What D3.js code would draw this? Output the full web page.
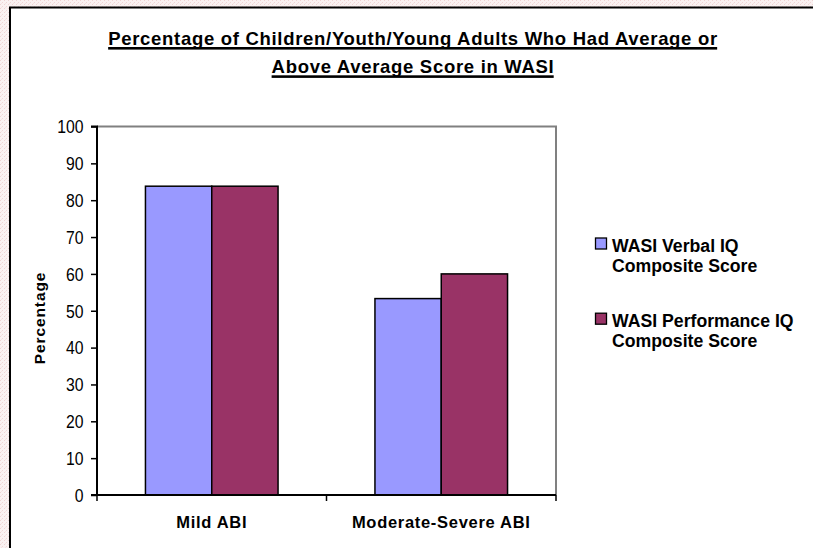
<!DOCTYPE html>
<html>
<head>
<meta charset="utf-8">
<script src="https://cdn.jsdelivr.net/npm/d3@7"></script>
<style>
  html, body { margin: 0; padding: 0; background: #fff; }
  svg { display: block; }
  text { font-family: "Liberation Sans", Arial, sans-serif; fill: #000; }
</style>
</head>
<body>
<svg id="chart" width="813" height="548"></svg>
<script>
// Data
const categories = ["Mild ABI", "Moderate-Severe ABI"];
const seriesNames = ["WASI Verbal IQ Composite Score", "WASI Performance IQ Composite Score"];
const legendLines = [["WASI Verbal IQ", "Composite Score"], ["WASI Performance IQ", "Composite Score"]];
const verbalValues = [83.8, 53.3];
const performanceValues = [83.8, 60];
const yTicks = [0, 10, 20, 30, 40, 50, 60, 70, 80, 90, 100];
const titleLines = ["Percentage of Children/Youth/Young Adults Who Had Average or", "Above Average Score in WASI"];
const yAxisTitle = "Percentage";
const colors = ["#9999FF", "#993366"];

const svg = d3.select("#chart");
const W = 813, H = 548;

// Textured page background
const defs = svg.append("defs");
const pat = defs.append("pattern").attr("id", "bgtex")
  .attr("width", 4).attr("height", 4).attr("patternUnits", "userSpaceOnUse");
pat.append("rect").attr("width", 4).attr("height", 4).attr("fill", "#faf1f1");
pat.append("rect").attr("x", 0).attr("y", 0).attr("width", 1).attr("height", 1).attr("fill", "#eed3d3");
pat.append("rect").attr("x", 2).attr("y", 2).attr("width", 1).attr("height", 1).attr("fill", "#efd6d6");
pat.append("rect").attr("x", 1).attr("y", 3).attr("width", 1).attr("height", 1).attr("fill", "#f4e2e2");
svg.append("rect").attr("width", W).attr("height", H).attr("fill", "url(#bgtex)");

// Chart area
svg.append("rect").attr("x", 10).attr("y", 7.5).attr("width", W).attr("height", H)
  .attr("fill", "#fff").attr("stroke", "#000").attr("stroke-width", 2);

// Plot area
const plot = { left: 97, right: 556, top: 126.5, bottom: 495 };
const x0 = d3.scaleBand().domain(categories).range([plot.left, plot.right]).paddingInner(0).paddingOuter(0);
const barW = 66.3;
const y = d3.scaleLinear().domain([0, 100]).range([plot.bottom, plot.top]);

// Plot area border (top and right)
svg.append("path")
  .attr("d", `M${plot.left},${plot.top}H${plot.right}V${plot.bottom}`)
  .attr("fill", "none").attr("stroke", "#808080").attr("stroke-width", 2);

// Bars
const data = categories.map((c, i) => ({ cat: c, vals: [verbalValues[i], performanceValues[i]] }));
const groups = svg.append("g").selectAll("g").data(data).join("g");
groups.selectAll("rect")
  .data(d => d.vals.map((v, k) => ({ cat: d.cat, v, k })))
  .join("rect")
  .attr("x", d => x0(d.cat) + x0.bandwidth() / 2 - barW + d.k * barW)
  .attr("y", d => y(d.v))
  .attr("width", barW)
  .attr("height", d => y(0) - y(d.v))
  .attr("fill", d => colors[d.k])
  .attr("stroke", "#000").attr("stroke-width", 1.5);

// Y axis
const yAxis = d3.axisLeft(y).tickValues(yTicks).tickSize(6).tickPadding(7).tickFormat(d3.format("d"));
const gy = svg.append("g").attr("transform", `translate(${plot.left},0)`).call(yAxis);
gy.select(".domain").attr("stroke", "#000").attr("stroke-width", 2).attr("d", `M-6,${plot.top}H0V${plot.bottom}H-6`);
gy.selectAll(".tick line").attr("stroke", "#000").attr("stroke-width", 1.5);
// tick labels: tall, slightly narrow glyphs
gy.selectAll(".tick text")
  .attr("font-size", 17.5).attr("font-family", "Liberation Sans, Arial, sans-serif").attr("fill", "#000")
  .attr("x", null).attr("dy", "0.36em")
  .attr("transform", "translate(-13.5,0) scale(0.9,1)");

// X axis
const gx = svg.append("g").attr("transform", `translate(0,${plot.bottom})`);
gx.append("line").attr("x1", plot.left).attr("x2", plot.right).attr("stroke", "#000").attr("stroke-width", 2);
const tickXs = [plot.left, ...categories.map(c => x0(c) + x0.bandwidth())];
gx.selectAll("line.tk").data(tickXs).join("line").attr("class", "tk")
  .attr("x1", d => d).attr("x2", d => d).attr("y1", 0).attr("y2", 6)
  .attr("stroke", "#000").attr("stroke-width", 1.5);
gx.selectAll("text").data(categories).join("text")
  .attr("x", d => x0(d) + x0.bandwidth() / 2)
  .attr("y", 33)
  .attr("text-anchor", "middle")
  .attr("font-size", 16.5).attr("font-weight", "bold").attr("letter-spacing", 0.7)
  .text(d => d);

// Y axis title
svg.append("text")
  .attr("transform", "translate(44.5,318) rotate(-90)")
  .attr("text-anchor", "middle")
  .attr("font-size", 15.5).attr("font-weight", "bold").attr("letter-spacing", 0.9)
  .text(yAxisTitle);

// Title with a heavy underline under each line
const titleG = svg.append("g");
titleLines.forEach((t, i) => {
  const by = 45 + i * 28.3;
  const txt = titleG.append("text")
    .attr("x", 413).attr("y", by)
    .attr("text-anchor", "middle")
    .attr("font-size", 18.5).attr("font-weight", "bold").attr("letter-spacing", 0.7)
    .text(t);
  const bb = txt.node().getBBox();
  titleG.append("rect")
    .attr("x", bb.x).attr("y", by + 2)
    .attr("width", bb.width - 0.7).attr("height", 2.6)
    .attr("fill", "#000");
});

// Legend
const legend = svg.append("g");
const legendY = [251.5, 326.7];
legendLines.forEach((lines, i) => {
  legend.append("rect").attr("x", 595.5).attr("y", legendY[i] - 13.5).attr("width", 11).attr("height", 11)
    .attr("fill", colors[i]).attr("stroke", "#000").attr("stroke-width", 1.3);
  lines.forEach((t, j) => {
    legend.append("text")
      .attr("transform", `translate(612,${legendY[i] + j * 20}) scale(0.955,1)`)
      .attr("font-size", 18.5).attr("font-weight", "bold").text(t);
  });
});
</script>
</body>
</html>
